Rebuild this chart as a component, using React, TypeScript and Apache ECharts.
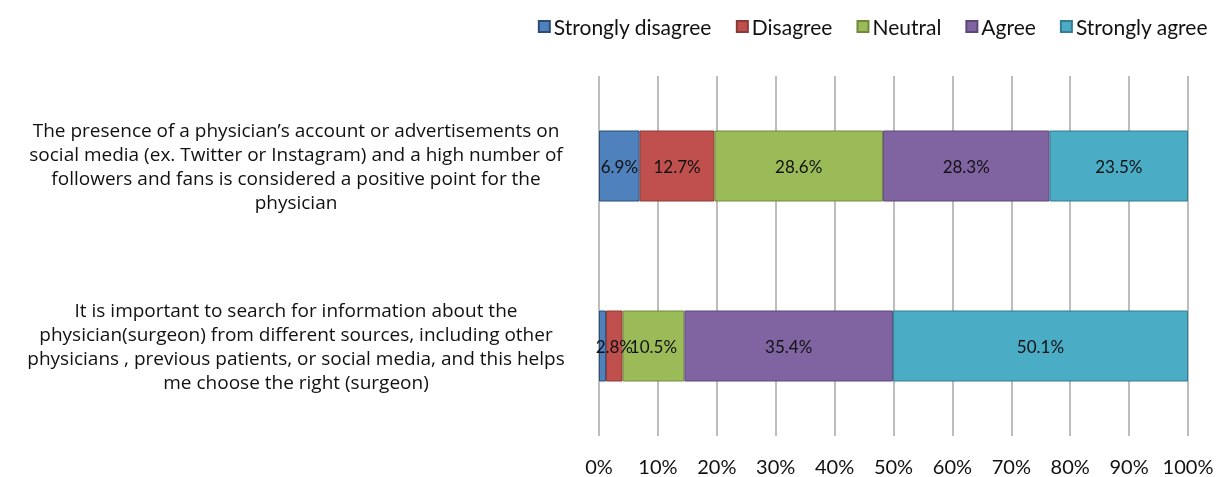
import React, { useEffect, useRef } from "react";
import * as echarts from "echarts";

const categories = [
  "The presence of a physician’s account or advertisements on\nsocial media (ex. Twitter or Instagram) and a high number of\nfollowers and fans is considered a positive point for the\nphysician",
  "It is important to search for information about the\nphysician(surgeon) from different sources, including other\nphysicians , previous patients, or social media, and this helps\nme choose the right (surgeon)",
];
const seriesNames = ["Strongly disagree", "Disagree", "Neutral", "Agree", "Strongly agree"];
const stronglyDisagree = [6.9, 1.2];
const disagree = [12.7, 2.8];
const neutral = [28.6, 10.5];
const agree = [28.3, 35.4];
const stronglyAgree = [23.5, 50.1];
const xTicks = [0, 10, 20, 30, 40, 50, 60, 70, 80, 90, 100];

const colors = ["#4F81BD", "#C0504D", "#9BBB59", "#8064A2", "#4BACC6"];
const borders = ["#2C4D75", "#8C3836", "#71893F", "#5C4776", "#357D91"];

export default function App() {
  const ref = useRef<HTMLDivElement>(null);
  useEffect(() => {
    if (!ref.current) return;
    const chart = echarts.init(ref.current, null, { renderer: "svg" });
    const allData = [stronglyDisagree, disagree, neutral, agree, stronglyAgree];
    const font = "Lato, 'Open Sans', sans-serif";
    const catFont = "'Open Sans', Lato, sans-serif";
    chart.setOption({
      animation: false,
      textStyle: { fontFamily: font },
      legend: {
        data: seriesNames,
        right: 8,
        top: 11,
        itemWidth: 11,
        itemHeight: 11,
        itemGap: 24,
        icon: "rect",
        textStyle: { fontSize: 21, color: "#111", fontFamily: font, padding: [0, 0, 0, -1] },
      },
      grid: { left: 599, right: 33, top: 76, height: 360 },
      xAxis: {
        type: "value",
        min: 0,
        max: 100,
        interval: 10,
        axisLine: { show: false },
        axisTick: { show: false },
        splitLine: { show: true, lineStyle: { color: "#BDBDBD", width: 2 } },
        axisLabel: {
          formatter: (v: number) => (xTicks.includes(v) ? v + "%" : ""),
          fontSize: 20,
          color: "#111",
          margin: 20,
          fontFamily: font,
        },
      },
      yAxis: {
        type: "category",
        inverse: true,
        data: categories,
        axisLine: { show: false },
        axisTick: { show: false },
        axisLabel: {
          align: "center",
          margin: 303,
          fontSize: 19,
          lineHeight: 24,
          color: "#111",
          fontFamily: catFont,
        },
      },
      series: seriesNames.map((name, i) => ({
        name,
        type: "bar",
        stack: "total",
        barWidth: 71,
        data: allData[i],
        itemStyle: { color: colors[i], borderColor: borders[i], borderWidth: 1 },
        label: {
          show: true,
          position: "inside",
          color: "#111",
          fontSize: 17,
          fontFamily: font,
          formatter: (p: any) => (p.value < 2 ? "" : p.value.toFixed(1) + "%"),
        },
      })),
    });
    return () => chart.dispose();
  }, []);
  return (
    <div
      ref={ref}
      style={{ position: "fixed", left: 0, top: 0, width: 1221, height: 477 }}
    />
  );
}
